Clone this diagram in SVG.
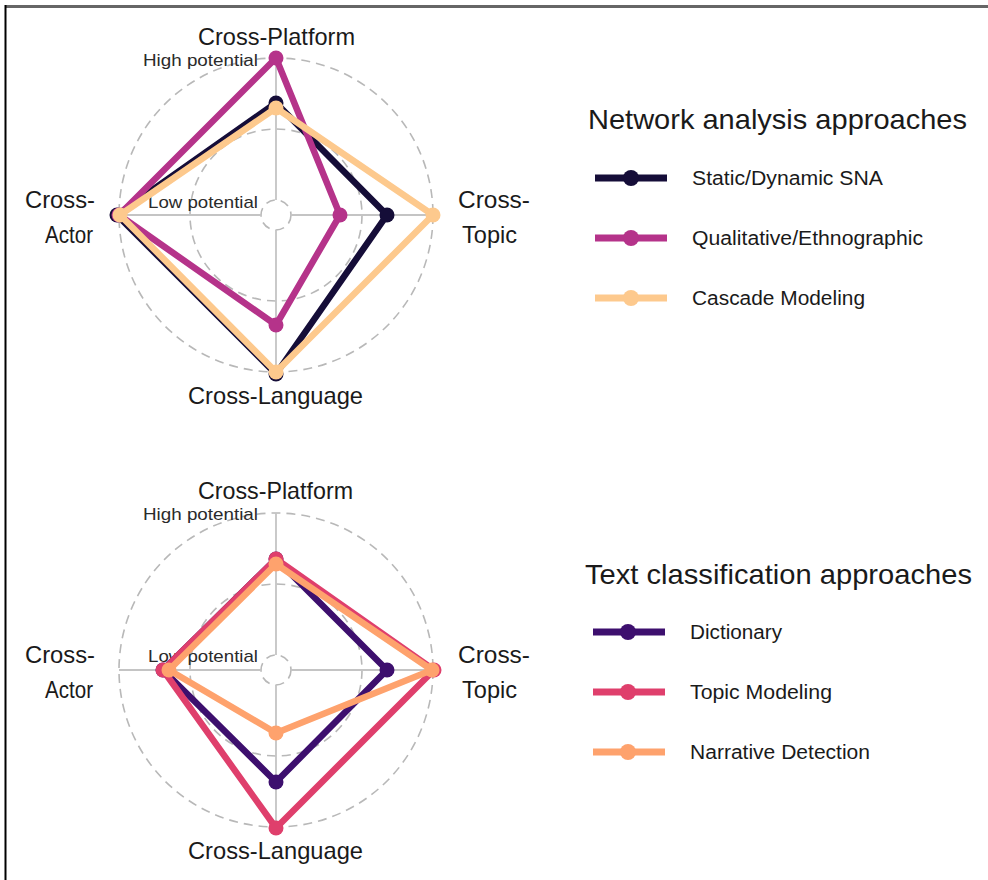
<svg xmlns="http://www.w3.org/2000/svg" width="988" height="880" viewBox="0 0 988 880">
<style>
text{font-family:"Liberation Sans",Arial,sans-serif;fill:#1a1a1a}
.ax{font-size:24px}
.pot{font-size:17px;fill:#2a2a2a}
.ttl{font-size:28px}
.lg{font-size:20px}
.grid{fill:none;stroke:#b8b8b8;stroke-width:1.6;stroke-dasharray:9 6}
.axis{stroke:#c4c4c4;stroke-width:1.8}
.ser{fill:none;stroke-width:6.5;stroke-linejoin:round}
.leg{stroke-width:7}
</style>
<rect width="988" height="880" fill="#fff"/>
<line x1="5" y1="6.5" x2="988" y2="6.5" stroke="#666" stroke-width="3"/>
<line x1="5.5" y1="5" x2="5.5" y2="880" stroke="#000" stroke-width="2"/>

<g id="radar-network">
  <g id="grid-top">
    <circle class="grid" cx="276" cy="215" r="157"/>
    <circle class="grid" cx="276" cy="215" r="86"/>
    <circle class="grid" cx="276" cy="215" r="15"/>
    <line class="axis" x1="276" y1="200" x2="276" y2="58"/>
    <line class="axis" x1="276" y1="230" x2="276" y2="372"/>
    <line class="axis" x1="261" y1="215" x2="119" y2="215"/>
    <line class="axis" x1="291" y1="215" x2="433" y2="215"/>
  </g>
  <text class="ax" x="198" y="45" textLength="157" lengthAdjust="spacingAndGlyphs">Cross-Platform</text>
  <text class="pot" x="143" y="66" textLength="115" lengthAdjust="spacingAndGlyphs">High potential</text>
  <text class="pot" x="148" y="208" textLength="110" lengthAdjust="spacingAndGlyphs">Low potential</text>
  <text class="ax" x="25" y="208" textLength="70" lengthAdjust="spacingAndGlyphs">Cross-</text>
  <text class="ax" x="45" y="243" textLength="48" lengthAdjust="spacingAndGlyphs">Actor</text>
  <text class="ax" x="458" y="208" textLength="72" lengthAdjust="spacingAndGlyphs">Cross-</text>
  <text class="ax" x="462" y="243" textLength="55" lengthAdjust="spacingAndGlyphs">Topic</text>
  <text class="ax" x="188" y="404" textLength="175" lengthAdjust="spacingAndGlyphs">Cross-Language</text>
  <g id="series-top">
    <polygon class="ser" stroke="#150d38" points="276,103 387,215 276,374 117,215"/>
    <polygon class="ser" stroke="#b5338a" points="276,58 340,215 276,325 119,215"/>
    <polygon class="ser" stroke="#fdc98d" points="276,108 433,215 276,372 120,215"/>
    <g fill="#150d38"><circle cx="276" cy="103" r="7.5"/><circle cx="387" cy="215" r="7.5"/><circle cx="276" cy="374" r="7.5"/><circle cx="117" cy="215" r="7.5"/></g>
    <g fill="#b5338a"><circle cx="276" cy="58" r="7.5"/><circle cx="340" cy="215" r="7.5"/><circle cx="276" cy="325" r="7.5"/><circle cx="119" cy="215" r="7.5"/></g>
    <g fill="#fdc98d"><circle cx="276" cy="108" r="7.5"/><circle cx="433" cy="215" r="7.5"/><circle cx="276" cy="372" r="7.5"/><circle cx="120" cy="215" r="7.5"/></g>
  </g>
</g>

<g id="legend-network">
  <text class="ttl" x="588" y="129" textLength="379" lengthAdjust="spacingAndGlyphs">Network analysis approaches</text>
  <g id="leg-sna"><line class="leg" x1="595" y1="178" x2="667" y2="178" stroke="#150d38"/><circle cx="631" cy="178" r="8" fill="#150d38"/>
  <text class="lg" x="692" y="185" textLength="191" lengthAdjust="spacingAndGlyphs">Static/Dynamic SNA</text></g>
  <g id="leg-qual"><line class="leg" x1="595" y1="238" x2="667" y2="238" stroke="#b5338a"/><circle cx="631" cy="238" r="8" fill="#b5338a"/>
  <text class="lg" x="692" y="245" textLength="231" lengthAdjust="spacingAndGlyphs">Qualitative/Ethnographic</text></g>
  <g id="leg-cascade"><line class="leg" x1="595" y1="298" x2="667" y2="298" stroke="#fdc98d"/><circle cx="631" cy="298" r="8" fill="#fdc98d"/>
  <text class="lg" x="692" y="305" textLength="173" lengthAdjust="spacingAndGlyphs">Cascade Modeling</text></g>
</g>

<g id="radar-text">
  <g id="grid-bottom">
    <circle class="grid" cx="276" cy="670" r="157"/>
    <circle class="grid" cx="276" cy="670" r="86"/>
    <circle class="grid" cx="276" cy="670" r="15"/>
    <line class="axis" x1="276" y1="655" x2="276" y2="513"/>
    <line class="axis" x1="276" y1="685" x2="276" y2="827"/>
    <line class="axis" x1="261" y1="670" x2="119" y2="670"/>
    <line class="axis" x1="291" y1="670" x2="433" y2="670"/>
  </g>
  <text class="ax" x="198" y="499" textLength="155" lengthAdjust="spacingAndGlyphs">Cross-Platform</text>
  <text class="pot" x="143" y="520" textLength="115" lengthAdjust="spacingAndGlyphs">High potential</text>
  <text class="pot" x="148" y="662" textLength="110" lengthAdjust="spacingAndGlyphs">Low potential</text>
  <text class="ax" x="25" y="663" textLength="70" lengthAdjust="spacingAndGlyphs">Cross-</text>
  <text class="ax" x="45" y="698" textLength="48" lengthAdjust="spacingAndGlyphs">Actor</text>
  <text class="ax" x="458" y="663" textLength="72" lengthAdjust="spacingAndGlyphs">Cross-</text>
  <text class="ax" x="462" y="698" textLength="55" lengthAdjust="spacingAndGlyphs">Topic</text>
  <text class="ax" x="188" y="859" textLength="175" lengthAdjust="spacingAndGlyphs">Cross-Language</text>
  <g id="series-bottom">
    <polygon class="ser" stroke="#3d0f6e" points="276,559 387,670 276,782 163,670"/>
    <polygon class="ser" stroke="#df3f6c" points="276,559 434,670 276,828 163,670"/>
    <polygon class="ser" stroke="#fea26d" points="276,564 432,670 276,733 169,670"/>
    <g fill="#3d0f6e"><circle cx="276" cy="559" r="7.5"/><circle cx="387" cy="670" r="7.5"/><circle cx="276" cy="782" r="7.5"/><circle cx="163" cy="670" r="7.5"/></g>
    <g fill="#df3f6c"><circle cx="276" cy="559" r="7.5"/><circle cx="434" cy="670" r="7.5"/><circle cx="276" cy="828" r="7.5"/><circle cx="163" cy="670" r="7.5"/></g>
    <g fill="#fea26d"><circle cx="276" cy="564" r="7.5"/><circle cx="432" cy="670" r="7.5"/><circle cx="276" cy="733" r="7.5"/><circle cx="169" cy="670" r="7.5"/></g>
  </g>
</g>

<g id="legend-text">
  <text class="ttl" x="585" y="584" textLength="387" lengthAdjust="spacingAndGlyphs">Text classification approaches</text>
  <g id="leg-dict"><line class="leg" x1="593" y1="632" x2="665" y2="632" stroke="#3d0f6e"/><circle cx="628" cy="632" r="8" fill="#3d0f6e"/>
  <text class="lg" x="690" y="639" textLength="92" lengthAdjust="spacingAndGlyphs">Dictionary</text></g>
  <g id="leg-topic"><line class="leg" x1="593" y1="692" x2="665" y2="692" stroke="#df3f6c"/><circle cx="628" cy="692" r="8" fill="#df3f6c"/>
  <text class="lg" x="690" y="699" textLength="142" lengthAdjust="spacingAndGlyphs">Topic Modeling</text></g>
  <g id="leg-narr"><line class="leg" x1="593" y1="752" x2="665" y2="752" stroke="#fea26d"/><circle cx="628" cy="752" r="8" fill="#fea26d"/>
  <text class="lg" x="690" y="759" textLength="180" lengthAdjust="spacingAndGlyphs">Narrative Detection</text></g>
</g>
</svg>
